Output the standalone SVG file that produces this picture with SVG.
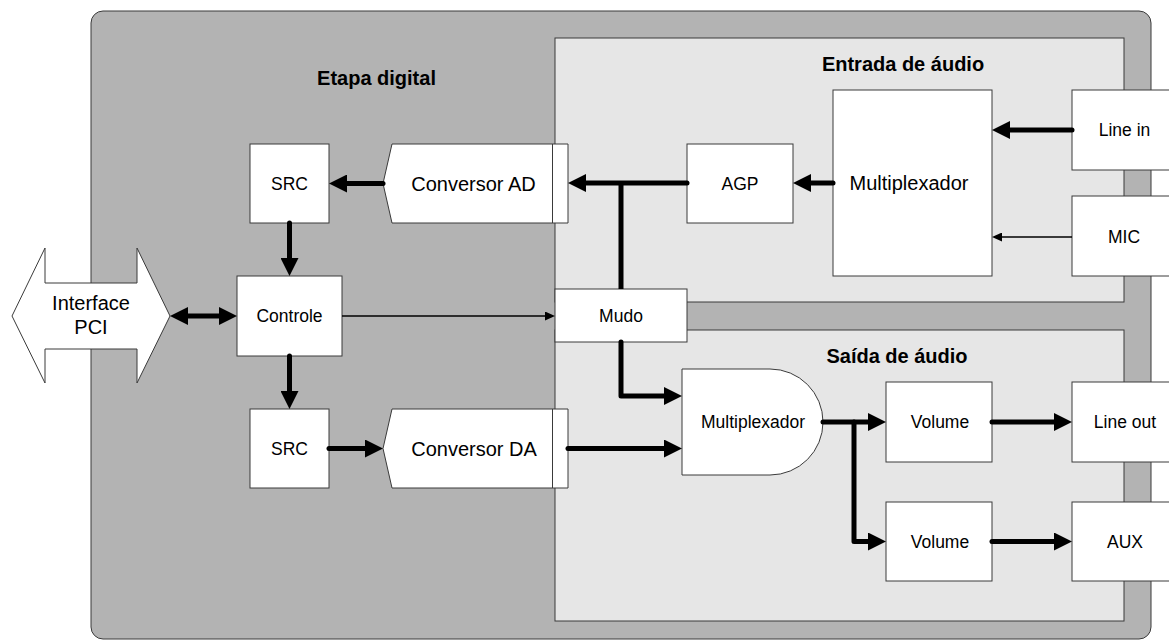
<svg xmlns="http://www.w3.org/2000/svg" width="1169" height="642" viewBox="0 0 1169 642">
<style>
.box{fill:#ffffff;stroke:#3a3a3a;stroke-width:1}
.t{font-family:"Liberation Sans",Arial,sans-serif;fill:#000;text-anchor:middle}
.s{font-size:17.5px}
.l{font-size:20px}
.b{font-size:20px;font-weight:bold}
.thick{fill:none;stroke:#000;stroke-width:5;stroke-linecap:round;stroke-linejoin:round}
.thin{fill:none;stroke:#000;stroke-width:1.6}
</style>
<defs>
<marker id="ah" markerUnits="userSpaceOnUse" markerWidth="18" markerHeight="18" viewBox="0 0 18 18" refX="6" refY="9" orient="auto-start-reverse">
<path d="M0,0 L18,9 L0,18 Z" fill="#000"/>
</marker>
<marker id="ahs" markerUnits="userSpaceOnUse" markerWidth="10" markerHeight="9" viewBox="0 0 10 9" refX="4" refY="4.5" orient="auto">
<path d="M0,0 L10,4.5 L0,9 Z" fill="#000"/>
</marker>
</defs>
<rect width="1169" height="642" fill="#ffffff"/>
<g id="etapa-digital">
<rect x="91" y="11" width="1060" height="628" rx="12" ry="12" fill="#b3b3b3" stroke="#3a3a3a" stroke-width="1"/>
<text class="t b" x="376.5" y="85">Etapa digital</text>
</g>
<g id="entrada-audio">
<rect x="555" y="38" width="569" height="264" fill="#e6e6e6" stroke="#3a3a3a" stroke-width="1"/>
<text class="t b" x="903" y="71">Entrada de áudio</text>
</g>
<g id="saida-audio">
<rect x="555" y="330" width="569" height="291" fill="#e6e6e6" stroke="#3a3a3a" stroke-width="1"/>
<text class="t b" x="897" y="363">Saída de áudio</text>
</g>
<g id="interface-pci">
<polygon class="box" points="12,316 45,248 45,283 137,283 137,248 170,316 137,383 137,349 45,349 45,383"/>
<text class="t l" x="91" y="310">Interface</text>
<text class="t l" x="91" y="334">PCI</text>
</g>
<g id="src-top">
<rect class="box" x="250" y="144" width="79" height="79"/>
<text class="t s" x="289.5" y="190">SRC</text>
</g>
<g id="controle">
<rect class="box" x="237" y="276" width="105" height="80"/>
<text class="t s" x="289.5" y="322">Controle</text>
</g>
<g id="src-bottom">
<rect class="box" x="250" y="409" width="79" height="79"/>
<text class="t s" x="289.5" y="455">SRC</text>
</g>
<g id="conversor-ad">
<polygon class="box" points="392,144 568,144 568,223 392,223 383,183.5"/>
<line x1="552.5" y1="144" x2="552.5" y2="223" stroke="#3a3a3a" stroke-width="1"/>
<text class="t l" x="473.5" y="191">Conversor AD</text>
</g>
<g id="conversor-da">
<polygon class="box" points="392,409 568,409 568,488 392,488 383,448.5"/>
<line x1="552.5" y1="409" x2="552.5" y2="488" stroke="#3a3a3a" stroke-width="1"/>
<text class="t l" x="474" y="456">Conversor DA</text>
</g>
<g id="mudo">
<rect class="box" x="555" y="289" width="132" height="53"/>
<text class="t s" x="621" y="322">Mudo</text>
</g>
<g id="agp">
<rect class="box" x="687" y="144" width="106" height="79"/>
<text class="t s" x="740" y="190">AGP</text>
</g>
<g id="multiplexador-entrada">
<rect class="box" x="833" y="90" width="159" height="186"/>
<text class="t l" x="909" y="190">Multiplexador</text>
</g>
<g id="line-in">
<rect class="box" x="1072" y="90" width="106" height="80"/>
<text class="t s" x="1124.5" y="136">Line in</text>
</g>
<g id="mic">
<rect class="box" x="1072" y="196" width="106" height="80"/>
<text class="t s" x="1124" y="242.5">MIC</text>
</g>
<g id="multiplexador-saida">
<path class="box" d="M682,369 H770 A53,53 0 0 1 770,475 H682 Z"/>
<text class="t s" x="753" y="428">Multiplexador</text>
</g>
<g id="volume-1">
<rect class="box" x="886" y="382" width="106" height="80"/>
<text class="t s" x="940" y="428">Volume</text>
</g>
<g id="volume-2">
<rect class="box" x="886" y="502" width="106" height="79"/>
<text class="t s" x="940" y="548">Volume</text>
</g>
<g id="line-out">
<rect class="box" x="1072" y="382" width="106" height="80"/>
<text class="t s" x="1125" y="428">Line out</text>
</g>
<g id="aux">
<rect class="box" x="1072" y="502" width="106" height="79"/>
<text class="t s" x="1125" y="548">AUX</text>
</g>
<g id="connectors">
<line class="thick" x1="687" y1="183" x2="580" y2="183" marker-end="url(#ah)"/>
<line x1="621" y1="183" x2="621" y2="289" stroke="#000" stroke-width="5"/>
<line class="thick" x1="833" y1="183" x2="805" y2="183" marker-end="url(#ah)"/>
<line class="thick" x1="1072" y1="130" x2="1004" y2="130" marker-end="url(#ah)"/>
<line class="thin" x1="1072" y1="237" x2="998" y2="237" marker-end="url(#ahs)"/>
<line class="thick" x1="383" y1="183.5" x2="341" y2="183.5" marker-end="url(#ah)"/>
<line class="thick" x1="289.5" y1="223" x2="289.5" y2="264" marker-end="url(#ah)"/>
<line class="thick" x1="182" y1="316" x2="225" y2="316" marker-start="url(#ah)" marker-end="url(#ah)"/>
<line class="thin" x1="342" y1="316" x2="549" y2="316" marker-end="url(#ahs)"/>
<line class="thick" x1="289.5" y1="356" x2="289.5" y2="397" marker-end="url(#ah)"/>
<line class="thick" x1="329" y1="448.5" x2="371" y2="448.5" marker-end="url(#ah)"/>
<line class="thick" x1="568" y1="448.5" x2="670" y2="448.5" marker-end="url(#ah)"/>
<path class="thick" d="M621,342 V396 H670" marker-end="url(#ah)"/>
<path class="thick" d="M823,422 H874" marker-end="url(#ah)"/>
<path class="thick" d="M854,422 V541.5 H874" marker-end="url(#ah)"/>
<path class="thick" d="M992,422 H1060" marker-end="url(#ah)"/>
<path class="thick" d="M992,541.5 H1060" marker-end="url(#ah)"/>
</g>
</svg>
